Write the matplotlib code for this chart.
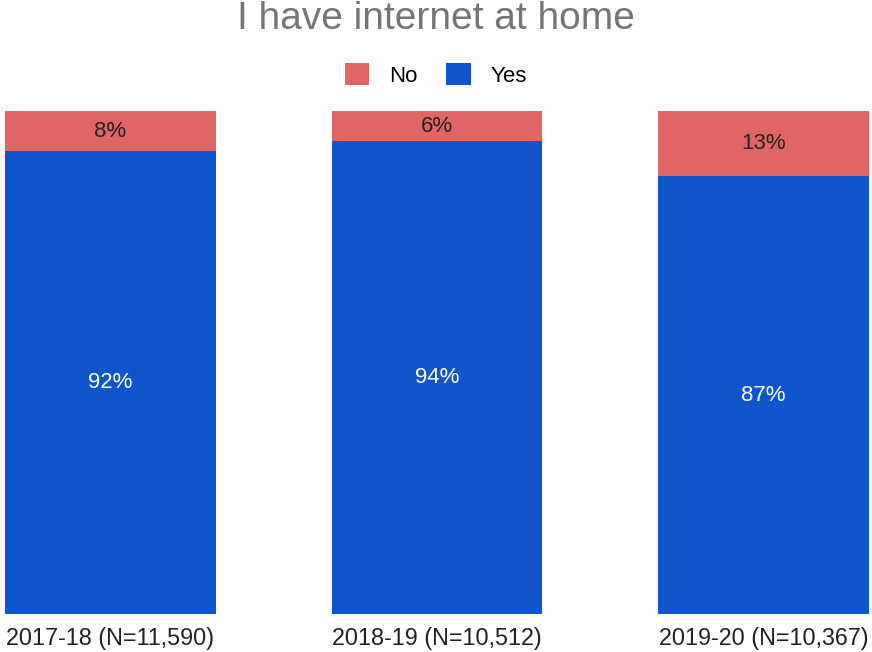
import matplotlib.pyplot as plt
import numpy as np

plt.rcParams['font.family'] = ['Liberation Sans', 'DejaVu Sans']

# chart data
years = ['2017-18 (N=11,590)', '2018-19 (N=10,512)', '2019-20 (N=10,367)']
yes_pct = [92, 94, 87]
no_pct = [8, 6, 13]

red = '#e06666'
blue = '#1155cc'

fig = plt.figure(figsize=(8.72, 6.52), dpi=100)
ax = fig.add_axes([5 / 872, 38 / 652, 864 / 872, 503 / 652])

x = np.arange(len(years))
w = 0.646
ax.bar(x, yes_pct, width=w, color=blue, label='Yes')
ax.bar(x, no_pct, width=w, bottom=yes_pct, color=red, label='No')

# segment labels
for i in range(len(years)):
    ax.text(x[i], yes_pct[i] / 2, f'{yes_pct[i]}%', ha='center', va='center',
            color='white', fontsize=16)
    ax.text(x[i], yes_pct[i] + no_pct[i] / 2, f'{no_pct[i]}%', ha='center', va='center',
            color='#222222', fontsize=16)

ax.set_xlim(-0.323, 2.323)
ax.set_ylim(0, 100)
ax.set_yticks([])
ax.set_xticks(x)
ax.set_xticklabels(years, fontsize=16.8, color='#222222')
ax.tick_params(axis='x', length=0, pad=9)
for s in ax.spines.values():
    s.set_visible(False)

# legend: No first, then Yes
handles, labels = ax.get_legend_handles_labels()
fig.legend(handles[::-1], labels[::-1], loc='center', bbox_to_anchor=(0.5, 1 - 75 / 652),
           ncol=2, frameon=False, fontsize=16, handlelength=1.1, handleheight=1.1,
           columnspacing=1.3, handletextpad=0.9)

fig.text(0.5, 1 - 19 / 652, 'I have internet at home', ha='center', va='center',
         fontsize=28, color='#757575')

fig.savefig('out.png', dpi=100)
